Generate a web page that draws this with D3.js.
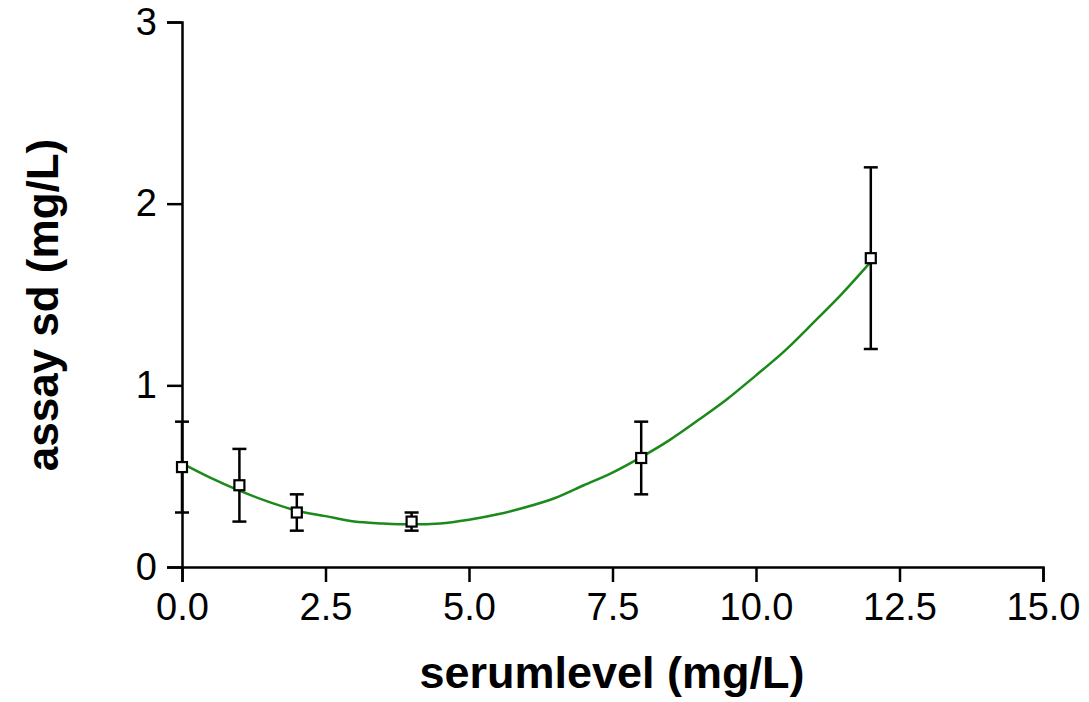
<!DOCTYPE html>
<meta charset="utf-8">
<style>
body { margin: 0; background: #fff; }
.axis path, .axis line { stroke: #000; stroke-width: 2.5px; }
</style>
<svg width="1089" height="702"></svg>
<script src="https://cdn.jsdelivr.net/npm/d3@7"></script>
<script>

// measured points
var serum = [0, 1, 2, 4, 8, 12];
var sd = [0.55, 0.45, 0.30, 0.25, 0.60, 1.70];
var sdLow = [0.30, 0.25, 0.20, 0.20, 0.40, 1.20];
var sdHigh = [0.80, 0.65, 0.40, 0.30, 0.80, 2.20];

// fitted curve
var fitX = [0, 0.5, 1, 1.5, 2, 2.5, 3, 3.5, 4, 4.5, 5, 5.5, 6, 6.5, 7, 7.5, 8, 8.5, 9, 9.5, 10, 10.5, 11, 11.5, 12];
var fitY = [0.57, 0.49, 0.42, 0.36, 0.31, 0.28, 0.25, 0.24, 0.235, 0.24, 0.26, 0.29, 0.33, 0.38, 0.45, 0.52, 0.605, 0.70, 0.81, 0.925, 1.055, 1.19, 1.345, 1.505, 1.68];

var xTicks = [0, 2.5, 5, 7.5, 10, 12.5, 15];
var yTicks = [0, 1, 2, 3];

var font = "'Liberation Sans', Arial, sans-serif";

var svg = d3.select("svg"),
    plotLeft = 182, plotRight = 1043, plotTop = 22, plotBottom = 567;

var x = d3.scaleLinear().domain([0, 15]).range([plotLeft, plotRight]);
var y = d3.scaleLinear().domain([0, 3]).range([plotBottom, plotTop]);

var xAxis = d3.axisBottom(x).tickValues(xTicks).tickFormat(d3.format(".1f"))
    .tickSizeInner(15).tickSizeOuter(15).tickPadding(11);
var yAxis = d3.axisLeft(y).tickValues(yTicks).tickFormat(d3.format("d"))
    .tickSizeInner(15).tickSizeOuter(15).tickPadding(10);

svg.append("g").attr("class", "axis")
    .attr("transform", "translate(0," + plotBottom + ")")
    .call(xAxis);
svg.append("g").attr("class", "axis")
    .attr("transform", "translate(" + plotLeft + ",0)")
    .call(yAxis);
svg.selectAll(".axis")
    .attr("font-family", font)
    .attr("font-size", 38);
svg.selectAll(".axis text").attr("fill", "#000");

var line = d3.line()
    .x(function (d, i) { return x(fitX[i]); })
    .y(function (d) { return y(d); })
    .curve(d3.curveMonotoneX);

svg.append("path")
    .attr("d", line(fitY))
    .attr("fill", "none")
    .attr("stroke", "#1a8a1a")
    .attr("stroke-width", 2.5);

var pts = svg.append("g").selectAll("g").data(serum).enter().append("g");

pts.append("line")
    .attr("x1", function (d) { return x(d); })
    .attr("x2", function (d) { return x(d); })
    .attr("y1", function (d, i) { return y(sdLow[i]); })
    .attr("y2", function (d, i) { return y(sdHigh[i]); })
    .attr("stroke", "#000").attr("stroke-width", 2.5);

[sdLow, sdHigh].forEach(function (arr) {
  pts.append("line")
      .attr("x1", function (d) { return x(d) - 7; })
      .attr("x2", function (d) { return x(d) + 7; })
      .attr("y1", function (d, i) { return y(arr[i]); })
      .attr("y2", function (d, i) { return y(arr[i]); })
      .attr("stroke", "#000").attr("stroke-width", 2.5);
});

pts.append("rect")
    .attr("x", function (d) { return x(d) - 5; })
    .attr("y", function (d, i) { return y(sd[i]) - 5; })
    .attr("width", 10).attr("height", 10)
    .attr("fill", "#fff").attr("stroke", "#000").attr("stroke-width", 2.2);

svg.append("text")
    .attr("x", 612).attr("y", 688)
    .attr("text-anchor", "middle")
    .attr("font-family", font)
    .attr("font-size", 45).attr("font-weight", "bold")
    .text("serumlevel (mg/L)");

svg.append("text")
    .attr("transform", "translate(58,305) rotate(-90)")
    .attr("text-anchor", "middle")
    .attr("font-family", font)
    .attr("font-size", 44).attr("font-weight", "bold")
    .text("assay sd (mg/L)");

</script>
